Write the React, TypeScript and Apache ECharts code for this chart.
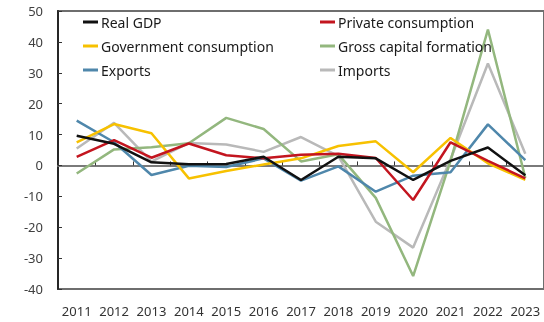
import React, { useEffect, useRef } from "react";
import * as echarts from "echarts";

const years = ["2011", "2012", "2013", "2014", "2015", "2016", "2017", "2018", "2019", "2020", "2021", "2022", "2023"];
const realGDP = [9.6, 7.0, 1.0, 0.4, 0.5, 2.8, -4.7, 2.8, 2.3, -4.7, 1.5, 5.8, -3.2];
const privateConsumption = [2.8, 8.2, 2.5, 7.1, 3.3, 2.3, 3.5, 3.8, 2.4, -11.2, 7.5, 1.5, -4.2];
const governmentConsumption = [7.5, 13.4, 10.4, -4.2, -1.8, 0.3, 2.3, 6.3, 7.8, -2.2, 8.9, 0.7, -4.7];
const grossCapitalFormation = [-2.6, 5.2, 5.9, 7.2, 15.4, 11.8, 1.3, 3.6, -10.5, -35.8, 1.5, 44.0, -4.0];
const exportsData = [14.5, 7.5, -3.1, -0.1, -0.5, 2.3, -4.9, -0.3, -8.5, -3.3, -2.2, 13.3, 1.7];
const importsData = [5.5, 13.8, 1.2, 7.3, 6.8, 4.4, 9.2, 3.0, -18.2, -26.6, 2.0, 33.0, 3.8];

const FONT = "'Noto Sans', 'DejaVu Sans', sans-serif";

export default function App() {
  const ref = useRef<HTMLDivElement>(null);
  useEffect(() => {
    if (!ref.current) return;
    const chart = echarts.init(ref.current, undefined, { renderer: "svg" });
    const mk = (name: string, data: number[], color: string) => ({
      name,
      type: "line",
      data,
      xAxisIndex: 0,
      symbol: "none",
      lineStyle: { color, width: 2.5 },
      itemStyle: { color },
    });
    const legendBase = {
      orient: "vertical",
      top: 14,
      padding: 0,
      itemGap: 8,
      itemWidth: 15,
      itemHeight: 3,
      icon: "rect",
      textStyle: { fontFamily: FONT, fontSize: 14, color: "#1a1a1a", lineHeight: 16, padding: [0, 0, 0, -2] },
    };
    chart.setOption({
      animation: false,
      grid: {
        left: 58,
        top: 11,
        right: -3,
        bottom: 33,
        show: true,
        borderColor: "#6e6e6e",
        borderWidth: 2,
        backgroundColor: "transparent",
      },
      legend: [
        { ...legendBase, left: 83, data: ["Real GDP", "Government consumption", "Exports"] },
        { ...legendBase, left: 320, data: ["Private consumption", "Gross capital formation", "Imports"] },
      ],
      xAxis: [
        {
          type: "category",
          data: years,
          boundaryGap: true,
          axisLine: { onZero: true, lineStyle: { color: "#7a7a7a", width: 2 } },
          axisTick: { show: true, inside: true, interval: 0, length: 4, lineStyle: { color: "#333", width: 1 } },
          axisLabel: { show: false, interval: 0 },
          splitLine: { show: false },
        },
        {
          type: "category",
          data: years,
          position: "bottom",
          boundaryGap: true,
          axisLine: { show: false, onZero: false },
          axisTick: { show: false },
          axisLabel: { show: true, interval: 0, margin: 15, fontFamily: FONT, fontSize: 13, color: "#333" },
          splitLine: { show: false },
        },
      ],
      yAxis: {
        type: "value",
        min: -40,
        max: 50,
        interval: 10,
        axisLine: { show: true, lineStyle: { color: "#262626", width: 2 } },
        axisTick: { show: true, inside: true, length: 4, lineStyle: { color: "#333" } },
        axisLabel: { margin: 15, fontFamily: FONT, fontSize: 13, color: "#404040" },
        splitLine: { show: false },
      },
      series: [
        mk("Imports", importsData, "#b9b9b9"),
        mk("Gross capital formation", grossCapitalFormation, "#93b77e"),
        mk("Exports", exportsData, "#4f87ab"),
        mk("Government consumption", governmentConsumption, "#f7c100"),
        mk("Private consumption", privateConsumption, "#c3151f"),
        mk("Real GDP", realGDP, "#111111"),
      ],
    });
    return () => chart.dispose();
  }, []);
  return <div ref={ref} style={{ position: "fixed", left: 0, top: 0, width: 544, height: 322 }} />;
}
